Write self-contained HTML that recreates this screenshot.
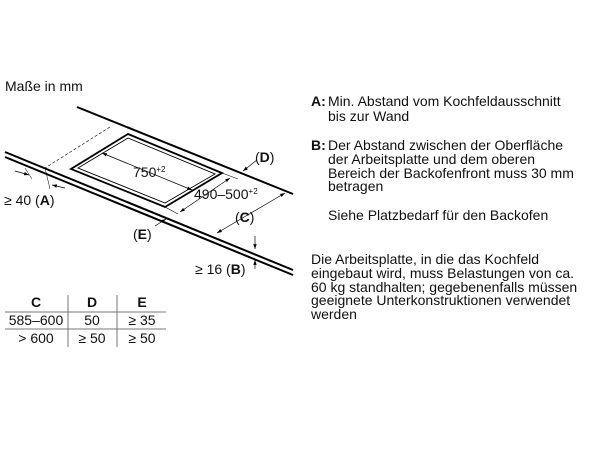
<!DOCTYPE html>
<html><head><meta charset="utf-8"><style>
html,body{margin:0;padding:0;background:#fff;}
svg{display:block;font-family:"Liberation Sans",Arial,sans-serif;}
</style></head><body>
<svg width="600" height="450" viewBox="0 0 600 450" xmlns="http://www.w3.org/2000/svg">
<defs>
<marker id="ar" viewBox="0 0 10 10" refX="10" refY="5" markerWidth="7" markerHeight="7" orient="auto-start-reverse"><path d="M0,1.5 L10,5 L0,8.5 z" fill="#000"/></marker>
</defs>
<g fill="#111" font-size="14">
<text x="5" y="91">Maße in mm</text>
</g>
<g stroke="#000" fill="none">
<line x1="77" y1="107" x2="293" y2="194" stroke-width="2"/>
<line x1="5" y1="152" x2="293" y2="270" stroke-width="2"/>
<line x1="5" y1="157" x2="293" y2="275" stroke-width="2"/>
<polygon points="128,134 222,173 165,207 71,169" stroke-width="1.8"/>
<polygon points="128,138 215,174 165,203 78,168" stroke-width="0.9"/>
<line x1="110" y1="127" x2="45" y2="168" stroke-dasharray="3,2" stroke-width="0.6"/>
<line x1="102" y1="153" x2="192" y2="190" stroke-width="0.7" marker-start="url(#ar)" marker-end="url(#ar)"/>
<line x1="230" y1="178" x2="180" y2="212" stroke-width="0.7" marker-start="url(#ar)" marker-end="url(#ar)"/>
<line x1="222" y1="173" x2="238" y2="179" stroke-width="0.6"/>
<line x1="165" y1="207" x2="178" y2="214" stroke-width="0.6"/>
<line x1="257" y1="160" x2="243" y2="171" stroke-width="0.7" marker-end="url(#ar)"/>
<line x1="285" y1="193" x2="217" y2="233" stroke-width="0.7" marker-start="url(#ar)" marker-end="url(#ar)"/>
<line x1="155" y1="226" x2="166" y2="219" stroke-width="0.7" marker-end="url(#ar)"/>
<line x1="255" y1="236" x2="255" y2="249" stroke-width="0.7" marker-end="url(#ar)"/>
<line x1="255" y1="269" x2="255" y2="260" stroke-width="0.7" marker-end="url(#ar)"/>
<line x1="15" y1="171" x2="29" y2="175" stroke-width="0.7" marker-end="url(#ar)"/>
<line x1="65" y1="188" x2="52" y2="185" stroke-width="0.7" marker-end="url(#ar)"/>
<line x1="25" y1="168" x2="32" y2="179" stroke-width="0.5"/>
<line x1="45" y1="168" x2="50" y2="189" stroke-width="0.5"/>
</g>
<g fill="#111" font-size="14">
<text x="133" y="177">750<tspan font-size="8" dy="-5">+2</tspan></text>
<text x="194" y="199">490–500<tspan font-size="8" dy="-5">+2</tspan></text>
<text x="255" y="162">(<tspan font-weight="bold">D</tspan>)</text>
<text x="235" y="222">(<tspan font-weight="bold">C</tspan>)</text>
<text x="133" y="239">(<tspan font-weight="bold">E</tspan>)</text>
<text x="195" y="274">≥ 16 (<tspan font-weight="bold">B</tspan>)</text>
<text x="4" y="205">≥ 40 (<tspan font-weight="bold">A</tspan>)</text>
</g>
<g stroke="#777" stroke-width="1">
<line x1="5" y1="312" x2="166" y2="312"/>
<line x1="5" y1="329" x2="166" y2="329"/>
<line x1="68" y1="295" x2="68" y2="347"/>
<line x1="117" y1="295" x2="117" y2="347"/>
</g>
<g fill="#111" font-size="14" text-anchor="middle">
<text x="36" y="307" font-weight="bold">C</text>
<text x="92" y="307" font-weight="bold">D</text>
<text x="142" y="307" font-weight="bold">E</text>
<text x="36" y="325">585–600</text>
<text x="92" y="325">50</text>
<text x="142" y="325">≥ 35</text>
<text x="36" y="343">&gt; 600</text>
<text x="92" y="343">≥ 50</text>
<text x="142" y="343">≥ 50</text>
</g>
<g fill="#111" font-size="14">
<text x="311" y="106"><tspan font-weight="bold">A:</tspan></text>
<text x="328" y="106">Min. Abstand vom Kochfeldausschnitt</text>
<text x="328" y="121">bis zur Wand</text>
<text x="311" y="150"><tspan font-weight="bold">B:</tspan></text>
<text x="328" y="150">Der Abstand zwischen der Oberfläche</text>
<text x="328" y="164">der Arbeitsplatte und dem oberen</text>
<text x="328" y="178">Bereich der Backofenfront muss 30 mm</text>
<text x="328" y="191">betragen</text>
<text x="328" y="220">Siehe Platzbedarf für den Backofen</text>
<text x="311" y="264">Die Arbeitsplatte, in die das Kochfeld</text>
<text x="311" y="278">eingebaut wird, muss Belastungen von ca.</text>
<text x="311" y="292">60 kg standhalten; gegebenenfalls müssen</text>
<text x="311" y="305">geeignete Unterkonstruktionen verwendet</text>
<text x="311" y="319">werden</text>
</g>
</svg>
</body></html>
